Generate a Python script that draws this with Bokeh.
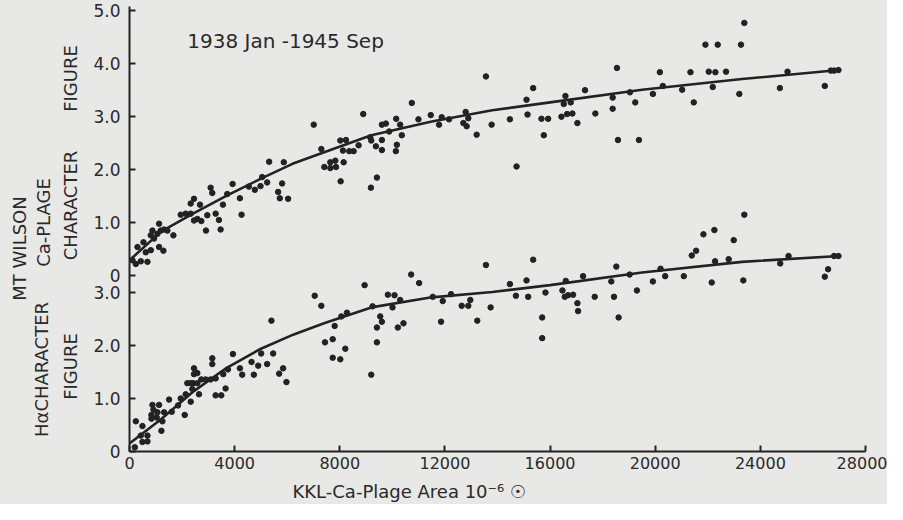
import math
from bokeh.plotting import figure
from bokeh.layouts import row, column
from bokeh.models import Range1d, FixedTicker, Label
from bokeh.core.properties import value
from bokeh.embed import file_html
from bokeh.resources import INLINE

# ---------------- data ----------------
# Upper panel: Ca-plage character figure vs KKL Ca-plage area
ca_x = [114, 240, 430, 683, 304, 531, 620, 810, 810, 873, 936, 1063, 1126, 1189, 1316, 1442,
        1126, 1290, 1670, 1948, 2138, 2328, 2328, 2454, 2682, 2454, 2581, 2732, 2909, 2960,
        3087, 3150, 3277, 3403, 3466, 3555, 3719, 3922, 4200, 4263, 4542, 4769, 4984, 5047,
        5237, 5313, 5655, 5718, 5806, 5870, 6034, 7298, 7412,
        7009, 7640, 7830, 8147, 7640, 7856, 8033, 8020, 8235, 8121, 8362, 8526, 8716, 8893,
        9159, 9197, 9374, 9412, 9184, 9601, 9753, 9601, 9601, 9879, 10171, 10133, 10146,
        10297, 10360, 10740, 10993, 11461, 11777, 11878, 12157, 12701, 12789, 12827, 12890,
        13207, 13560, 13776, 14472, 14725, 15104, 15357, 15142, 15673, 15926, 15762,
        16432, 16584, 16520, 16648, 16850, 16786, 17040, 17330, 17723, 18381, 18381, 18545,
        18583, 19038, 19241, 19380, 19912, 20177, 20290, 21024, 21341, 21467, 21910, 22037,
        22188, 22289, 22378, 22694, 23200, 23263, 23390, 24743, 25034, 26451, 26679, 26805,
        26970]
ca_y = [0.28, 0.21, 0.26, 0.25, 0.53, 0.62, 0.43, 0.47, 0.75, 0.84, 0.69, 0.78, 0.97, 0.84, 0.86, 0.84,
        0.53, 0.46, 0.75, 1.14, 1.16, 1.16, 1.35, 1.44, 1.33, 1.03, 1.06, 1.02, 0.84, 1.13,
        1.65, 1.55, 1.16, 1.04, 0.86, 1.33, 1.53, 1.72, 1.45, 1.14, 1.67, 1.61, 1.68, 1.85,
        1.75, 2.14, 1.57, 1.45, 1.73, 2.13, 1.44, 2.38, 2.04,
        2.84, 2.13, 2.16, 2.13, 2.02, 2.04, 1.77, 2.54, 2.55, 2.35, 2.34, 2.34, 2.45, 3.04,
        2.60, 2.54, 2.43, 1.84, 1.65, 2.84, 2.86, 2.55, 2.36, 2.71, 2.46, 2.34, 2.95,
        2.84, 2.64, 3.25, 2.94, 3.02, 2.84, 2.98, 2.94, 2.87, 3.08, 2.81, 2.96,
        2.65, 3.75, 2.84, 2.94, 2.05, 3.31, 3.53, 3.03, 2.95, 2.95, 2.64,
        2.99, 3.38, 3.23, 3.04, 3.05, 3.26, 2.87, 3.49, 3.05, 3.35, 3.14, 3.91,
        2.55, 3.45, 3.26, 2.55, 3.42, 3.83, 3.57, 3.50, 3.83, 3.26, 4.35, 3.84,
        3.55, 3.83, 4.35, 3.84, 3.42, 4.35, 4.76, 3.53, 3.84, 3.57, 3.86, 3.86,
        3.87]

# Lower panel: H-alpha character figure vs KKL Ca-plage area
ha_x = [202, 240, 493, 683, 430, 683, 493, 835, 873, 1126, 911, 835, 1037, 1063, 1252, 1214,
        1316, 1505, 1607, 1847, 1948, 2100, 2138, 2328, 2391, 2416, 2454, 2454, 2581, 2581,
        2644, 2732, 2897, 3087, 3150, 3150, 3277, 3277, 3491, 3567, 3656, 3745, 3934, 4200,
        4288, 4643, 4731, 4896, 5009, 5237, 5465, 5693, 5844, 5971, 7438, 2200, 2330, 5400,
        7046, 7298, 7730, 7805, 7730, 8020, 8210, 8058, 8273, 8944, 9197, 9247, 9412, 9412,
        9538, 9601, 9829, 10082, 10006, 10209, 10297, 10423, 10715, 11019, 11537, 11853,
        11916, 12233, 12637, 12890, 12966, 13231, 13560, 13738, 14472, 14700, 15104, 15167,
        15357, 15699, 15699, 15825,
        16470, 16597, 16559, 16685, 16875, 17040, 17065, 17255, 17698, 18330, 18431, 18520,
        18608, 19026, 19304, 19912, 20203, 20379, 21088, 21391, 21556, 21834, 22251, 22150,
        22277, 22796, 22986, 23352, 23390, 24756, 25072, 26451, 26577, 26805, 26970]
ha_y = [0.08, 0.57, 0.18, 0.19, 0.30, 0.30, 0.48, 0.62, 0.88, 0.88, 0.79, 0.69, 0.64, 0.74, 0.57, 0.39,
        0.74, 0.98, 0.75, 0.87, 1.00, 0.69, 1.08, 0.94, 1.18, 1.29, 1.46, 1.57, 1.48, 1.29,
        1.08, 1.36, 1.36, 1.36, 1.76, 1.65, 1.38, 1.06, 1.06, 1.46, 1.19, 1.55, 1.84, 1.57,
        1.45, 1.69, 1.45, 1.62, 1.85, 1.65, 1.85, 1.47, 1.57, 1.31, 2.06, 1.29, 1.29, 2.47,
        2.94, 2.75, 2.12, 2.37, 1.77, 1.74, 1.94, 2.55, 2.62, 3.14, 1.45, 2.74, 2.34, 2.06,
        2.55, 2.45, 2.96, 2.95, 2.72, 2.34, 2.86, 2.42, 3.34, 3.18, 2.92, 2.45,
        2.84, 2.97, 2.75, 2.75, 2.86, 2.47, 3.52, 2.72, 3.16, 2.94, 3.23, 2.92,
        3.62, 2.53, 2.14, 3.00,
        3.04, 3.22, 2.92, 2.95, 2.96, 2.80, 2.65, 3.31, 2.92, 3.21, 2.92, 3.49,
        2.53, 3.34, 3.04, 3.21, 3.45, 3.31, 3.31, 3.70, 3.79, 4.10, 4.18, 3.19,
        3.59, 3.63, 3.99, 3.23, 4.47, 3.55, 3.69, 3.30, 3.44, 3.69, 3.69]

# Smooth mean curves drawn through each cloud
ca_curve_x = [0, 1200, 2450, 3700, 5000, 6200, 7300, 9200, 11500, 13800, 16000, 19500, 23300, 27000]
ca_curve_y = [0.28, 0.82, 1.17, 1.50, 1.82, 2.10, 2.30, 2.64, 2.90, 3.11, 3.26, 3.50, 3.70, 3.87]
ha_curve_x = [0, 1200, 2450, 3700, 5000, 6250, 7400, 9200, 11500, 13800, 16000, 19500, 23300, 27000]
ha_curve_y = [0.15, 0.61, 1.14, 1.58, 1.94, 2.21, 2.42, 2.72, 2.91, 3.01, 3.14, 3.38, 3.58, 3.69]

x_ticks = [0, 4000, 8000, 12000, 16000, 20000, 24000, 28000]
x_tick_labels = ["0", "4000", "8000", "12000", "16000", "20000", "24000", "28000"]
ha_ticks = [0, 1, 2, 3]
ha_tick_labels = ["0", "1.0", "2.0", "3.0"]
ca_ticks = [0, 1, 2, 3, 4, 5]
ca_tick_labels = ["0", "1.0", "2.0", "3.0", "4.0", "5.0"]

period_text = "1938 Jan -1945 Sep"
x_title = "KKL-Ca-Plage Area 10\u207b\u2076 \u2609"
# rotated side titles; centres in pixels of the side strip (y measured up from the frame bottom)
side_texts = ["MT WILSON", "Ca-PLAGE", "CHARACTER", "FIGURE", "H\u03b1CHARACTER", "FIGURE"]
side_cx = [19, 43, 70, 70, 41, 70]
side_cy = [203, 229, 246, 373, 82, 85]

# ---------------- layout ----------------
INK = "#222222"
TXT = "#2a2a2a"
PAPER = "#e8e8e6"
FONT = "DejaVu Sans"
OFFSET = 3.33          # vertical shift of the upper panel's zero, in lower-panel units
Y_TOP = 8.40
W = 887
SIDE_W = 85
B_TOP, B_BOTTOM = 6, 27
FRAME_H = 445
H = B_TOP + FRAME_H + B_BOTTOM      # 478
STRIP_H = 504 - H                   # 26: strip under the plot for the x title
MAIN_LEFT, MAIN_RIGHT = 44, 22
BG = {"background-color": PAPER}


def bare(fig):
    fig.background_fill_color = PAPER
    fig.border_fill_color = PAPER
    fig.outline_line_color = None
    fig.grid.visible = False


# side strip carrying the rotated y titles (frame aligned with the main frame)
s = figure(width=SIDE_W, height=H, output_backend="svg", toolbar_location=None,
           x_range=Range1d(0, SIDE_W), y_range=Range1d(0, FRAME_H),
           min_border_left=0, min_border_right=0, min_border_top=B_TOP, min_border_bottom=B_BOTTOM,
           x_axis_location=None, y_axis_location=None)
bare(s)
s.text(side_cx, side_cy, text=side_texts, angle=math.pi / 2,
       text_font=value(FONT), text_font_size="18px", text_color=TXT,
       text_align="center", text_baseline="middle")

# main plot
p = figure(width=W - SIDE_W, height=H, output_backend="svg", toolbar_location=None,
           x_range=Range1d(0, 28000), y_range=Range1d(0, Y_TOP),
           min_border_left=MAIN_LEFT, min_border_right=MAIN_RIGHT,
           min_border_top=B_TOP, min_border_bottom=B_BOTTOM)
p.extra_y_ranges = {"ca": Range1d(-OFFSET, Y_TOP - OFFSET)}
bare(p)

xa = p.xaxis[0]
xa.ticker = FixedTicker(ticks=x_ticks)
xa.major_label_overrides = {t: l for t, l in zip(x_ticks, x_tick_labels)}

y_ticks = [float(t) for t in ha_ticks] + [round(t + OFFSET, 2) for t in ca_ticks]
y_labels = ha_tick_labels + ca_tick_labels
ya = p.yaxis[0]
ya.ticker = FixedTicker(ticks=y_ticks)
ya.major_label_overrides = {t: l for t, l in zip(y_ticks, y_labels)}

for ax in (xa, ya):
    ax.axis_line_color = INK
    ax.axis_line_width = 2
    ax.major_tick_line_color = INK
    ax.major_tick_line_width = 2
    ax.major_tick_in = 6
    ax.major_tick_out = 0
    ax.minor_tick_line_color = None
    ax.major_label_text_font = FONT
    ax.major_label_text_font_size = "17px"
    ax.major_label_text_color = TXT
xa.major_label_text_font_size = "16px"
xa.major_label_standoff = 5
ya.major_label_standoff = 9

# data
p.line(ca_curve_x, ca_curve_y, y_range_name="ca", line_color=INK, line_width=2.6)
p.line(ha_curve_x, ha_curve_y, line_color=INK, line_width=2.6)
p.scatter(ca_x, ca_y, y_range_name="ca", size=5.5, color=INK)
p.scatter(ha_x, ha_y, size=5.5, color=INK)

p.add_layout(Label(x=2197, y=4.41, y_range_name="ca", text=period_text,
                   text_font=FONT, text_font_size="20px", text_color=TXT,
                   text_align="left", text_baseline="middle"))

# strip under the plot carrying the x-axis title (same x scale as the plot)
t = figure(width=W, height=STRIP_H, output_backend="svg", toolbar_location=None,
           x_range=p.x_range, y_range=Range1d(0, STRIP_H),
           min_border_left=SIDE_W + MAIN_LEFT, min_border_right=MAIN_RIGHT,
           min_border_top=0, min_border_bottom=0,
           x_axis_location=None, y_axis_location=None)
bare(t)
t.add_layout(Label(x=6200, y=STRIP_H / 2, text=x_title,
                   text_font=FONT, text_font_size="18px", text_color=TXT,
                   text_align="left", text_baseline="middle"))

layout = column(row(s, p, spacing=0, styles=BG), t, spacing=0, styles=BG)
open("out.html", "w").write(file_html(layout, INLINE))
